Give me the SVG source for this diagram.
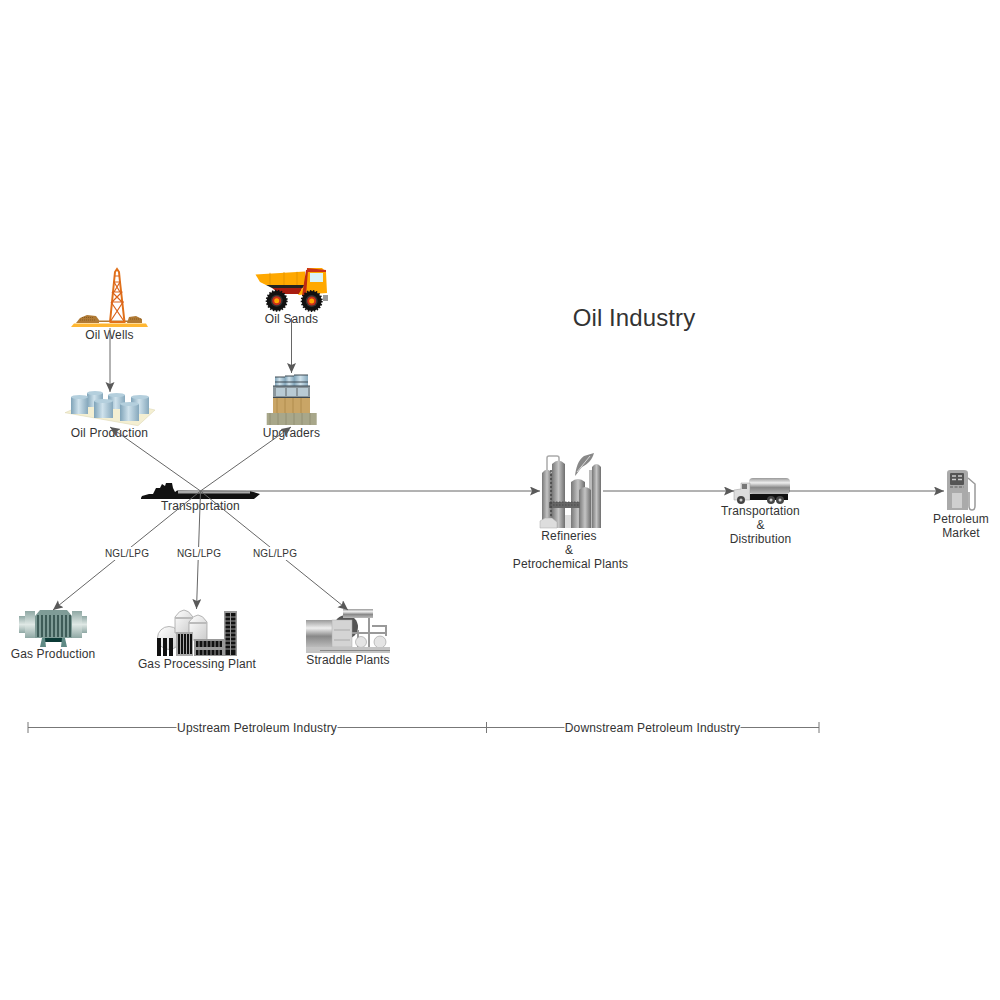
<svg xmlns="http://www.w3.org/2000/svg" width="1000" height="1000" viewBox="0 0 1000 1000">
<style>
text{font-family:"Liberation Sans",Arial,sans-serif;font-size:12px;fill:#333;text-anchor:middle;letter-spacing:.14px}
.title{font-size:24px;letter-spacing:.1px}
.sm{font-size:10px;letter-spacing:.1px}
.c{fill:none;stroke:#666;stroke-width:1}
.bg{fill:#fff}
.tick{fill:none;stroke:#777;stroke-width:1}
.tank{fill:url(#blue)}
.tt{fill:#b4cfdd}
.col{fill:url(#hgrey)}
.blk{fill:#111}
</style>
<defs>
<marker id="arr" markerUnits="userSpaceOnUse" markerWidth="11" markerHeight="10" refX="10" refY="4.5" orient="auto">
<path d="M0,0 L10,4.500 L0,9 L2,4.500 z" fill="#595959"/>
</marker>
<linearGradient id="blue" x1="0" x2="1" y1="0" y2="0"><stop offset="0" stop-color="#7fa3b8"/><stop offset=".45" stop-color="#cfe2ec"/><stop offset="1" stop-color="#86a8bc"/></linearGradient>
<linearGradient id="hgrey" x1="0" x2="1" y1="0" y2="0"><stop offset="0" stop-color="#777"/><stop offset=".5" stop-color="#c4c4c4"/><stop offset="1" stop-color="#6e6e6e"/></linearGradient>
<linearGradient id="vgrey" x1="0" x2="0" y1="0" y2="1"><stop offset="0" stop-color="#999"/><stop offset=".3" stop-color="#eee"/><stop offset=".6" stop-color="#888"/><stop offset="1" stop-color="#bbb"/></linearGradient>
<linearGradient id="teal" x1="0" x2="0" y1="0" y2="1"><stop offset="0" stop-color="#8fa8a4"/><stop offset=".5" stop-color="#dfe8e5"/><stop offset="1" stop-color="#8fa8a4"/></linearGradient>
<linearGradient id="dome" x1="0" x2="1" y1="0" y2="1"><stop offset="0" stop-color="#fff"/><stop offset="1" stop-color="#ccc"/></linearGradient>
</defs>

<g id="title"><text class="title" x="634" y="326">Oil Industry</text></g>

<g id="oil-wells">
<path d="M71,327 L74,323.500 L146,323.500 L148,327 z" fill="#ffb733"/>
<path d="M76,323 L80,318 L87,315 L96,316 L99,320 L99,323 z" fill="#b07a35"/>
<path d="M127,323 L129,317 L136,316 L142,319 L142,323 z" fill="#b07a35"/>
<path d="M80,320 H96 M82,317.500 H94 M130,319 H141" stroke="#7d5520" stroke-width=".8" stroke-dasharray="1 1" fill="none"/>
<rect x="98" y="320.500" width="30" height="1.500" fill="#b07a35"/>
<path d="M110,322 L114,282 L115,272 L117,269 L119,272 L120,282 L124.500,322" fill="none" stroke="#e0701a" stroke-width="2"/>
<path d="M111,302 H124 M112,292 H122.500 M113.500,282 H120.500 M114.500,276 H119.500 M110,322 L123,302 M124.500,322 L111,302 M112,302 L122,292 M122,302 L112,292 M114,292 L120,282 M120,292 L114,282" fill="none" stroke="#d9621a" stroke-width="1.200"/>
<rect x="109.500" y="321" width="16" height="2" fill="#e0701a"/>
<text x="109.500" y="339">Oil Wells</text>
</g>

<g id="oil-sands">
<path d="M255.500,274.500 L305,271.500 L305,285 L266,285 L260,282 z" fill="#ffa800"/>
<path d="M270,272.800 V285 M284,272 V285 M297,271.800 V285" stroke="#d98c00" stroke-width=".7"/>
<path d="M266,285 L305,285 L305,288 L272,288 z" fill="#222"/>
<path d="M272,288 H302 L300,294 H280 z" fill="#a81c10"/>
<path d="M305,284 L307,268 L322,268 L326,272 L327,293 L298,295 z" fill="#ffa800"/>
<path d="M302,296 L306,270 L308,270 L306,296 z" fill="#c02a10"/>
<rect x="310" y="273" width="13" height="9" fill="#d9f2f7"/>
<path d="M307,268 L326,270 L326,272 L307,272 z" fill="#c8301a"/>
<rect x="323" y="295" width="5" height="6" fill="#999"/>
<circle cx="276.700" cy="300.700" r="10" fill="#111" stroke="#111" stroke-width="2" stroke-dasharray="1.500 1.500"/><circle cx="276.700" cy="300.700" r="6" fill="#333"/><circle cx="276.700" cy="300.700" r="4.500" fill="#c8301a"/><circle cx="276.700" cy="300.700" r="2.500" fill="#ffa800"/>
<circle cx="311.700" cy="301" r="10" fill="#111" stroke="#111" stroke-width="2" stroke-dasharray="1.500 1.500"/><circle cx="311.700" cy="301" r="6" fill="#333"/><circle cx="311.700" cy="301" r="4.500" fill="#c8301a"/><circle cx="311.700" cy="301" r="2.500" fill="#ffa800"/>
<text x="291.500" y="323">Oil Sands</text>
</g>

<g id="oil-production">
<path d="M65,412.700 L138,425.700 L155,410 L125,403 L85,404 z" fill="#f4efd2" stroke="#d8d2ae" stroke-width=".5"/>
<rect class="tank" x="87" y="393" width="16" height="14"/><ellipse class="tt" cx="95" cy="393" rx="8" ry="2"/>
<rect class="tank" x="108" y="395" width="17" height="14"/><ellipse class="tt" cx="116.500" cy="395" rx="8.500" ry="2"/>
<rect class="tank" x="71" y="397" width="17" height="17"/><ellipse class="tt" cx="79.500" cy="397" rx="8.500" ry="2"/>
<rect class="tank" x="131" y="397" width="18" height="17"/><ellipse class="tt" cx="140" cy="397" rx="9" ry="2"/>
<rect class="tank" x="94" y="401" width="19" height="17"/><ellipse class="tt" cx="103.500" cy="401" rx="9.500" ry="2"/>
<rect class="tank" x="120" y="404" width="19" height="17"/><ellipse class="tt" cx="129.500" cy="404" rx="9.500" ry="2"/>
<text x="109.500" y="437">Oil Production</text>
</g>

<g id="upgraders">
<rect x="266.700" y="413" width="50" height="12" fill="#a8a78a"/>
<path d="M270,413 V425 M278,413 V425 M286,413 V425 M294,413 V425 M302,413 V425 M310,413 V425" stroke="#8d8c70" stroke-width=".8"/>
<rect x="273" y="398" width="37" height="15" fill="#c9a566"/>
<rect x="273" y="386" width="37" height="12" fill="#8a969c"/>
<path d="M277,398 V413 M285,398 V413 M293,398 V413 M301,398 V413" stroke="#b08c4c" stroke-width="1"/>
<path d="M276,388 H285 V396 H276 z M287,388 H296 V396 H287 z M298,388 H308 V396 H298 z" fill="#b9cbd4"/>
<rect class="tank" x="275" y="377" width="10" height="9"/>
<rect class="tank" x="285" y="376" width="9" height="10"/>
<rect class="tank" x="294" y="375" width="14" height="11"/>
<path d="M275,377 H285 M285,376 H294 M294,375 H308 M275,382 H308 M273,386 H310 M273,397.500 H310" stroke="#3f4a52" stroke-width="1" fill="none"/>
<text x="291.500" y="437">Upgraders</text>
</g>

<g id="transportation">
<path d="M141,498 L142,496 L149,494 L153,494 L156,488 L160,488 L162,484 L165,486 L166,483 L172,483 L173,488 L175,492 L177,490.500 L250,491 L260,494 L254,499 L141,499 z" class="blk"/>
<rect x="178" y="491" width="72" height="2.500" fill="#aaa"/>
<text x="200.500" y="510">Transportation</text>
</g>

<g id="refineries">
<path d="M547,470 V458 Q547,456 549,456 H557 Q559,456 559,458 V461" fill="none" stroke="#aaa" stroke-width="1.500"/>
<path d="M542,528 V473 Q547,466 552,473 V528 z" class="col"/>
<path d="M552,528 V464 Q558.500,457 565,464 V528 z" class="col"/>
<rect x="565" y="515" width="14" height="13" fill="#ddd"/>
<path d="M571,528 V482 Q578,476 585,482 V528 z" class="col"/>
<path d="M589,528 V470 H593 V528 z" fill="#bbb"/>
<path d="M579,528 V490 Q585,484 591,490 V528 z" class="col"/>
<path d="M592,528 V467 Q596.500,461 601,467 V528 z" class="col"/>
<rect x="549" y="502" width="31" height="6" fill="#666"/>
<path d="M550,502 H580 M550,505 H580" stroke="#444" stroke-width=".8" stroke-dasharray="1.500 1.500"/>
<path d="M551,470 V518" stroke="#444" stroke-width="1.500" stroke-dasharray="2 2" fill="none"/>
<path d="M540,528 V521 L545,518 L552,518 L557,522 V528 z" fill="#ddd" stroke="#aaa" stroke-width=".5"/>
<path d="M575,476 C576,468 578,460 584,456 L594,453 C592,460 588,464 582,467 C579,470 577,474 575,476 z" fill="#888"/>
<path d="M577,472 L590,456" stroke="#eee" stroke-width=".8"/>
<text x="569" y="540">Refineries</text>
<text x="569" y="554">&amp;</text>
<text x="570.500" y="568">Petrochemical Plants</text>
</g>

<g id="truck">
<rect x="749" y="478" width="41" height="16" rx="4" fill="url(#vgrey)"/>
<path d="M734,500 V490 L741,489 L741,483 L750,483 V500 z" fill="#ddd" stroke="#999" stroke-width=".5"/>
<rect x="742" y="484" width="5" height="5" fill="#777"/>
<rect x="750" y="494" width="38" height="6" class="blk"/>
<circle cx="741" cy="500" r="4" fill="#444"/><circle cx="741" cy="500" r="1.500" fill="#ccc"/>
<circle cx="771" cy="500" r="4" fill="#444"/><circle cx="771" cy="500" r="1.500" fill="#ccc"/>
<circle cx="780" cy="500" r="4" fill="#444"/><circle cx="780" cy="500" r="1.500" fill="#ccc"/>
<text x="760.500" y="515">Transportation</text>
<text x="760.500" y="529">&amp;</text>
<text x="760.500" y="543">Distribution</text>
</g>

<g id="petroleum-market">
<path d="M947,510 V473 Q947,470 950,470 H964 Q968,470 968,473 V510 z" fill="#aaa"/>
<rect x="950" y="473" width="14" height="12" rx="1" fill="#555"/>
<path d="M952,476 H956 M958,476 H962 M952,479.500 H956 M958,479.500 H962" stroke="#ccc" stroke-width="1.500"/>
<path d="M950,487 H964" stroke="#777" stroke-width="1.500" stroke-dasharray="3 1.500"/>
<rect x="952" y="493" width="10" height="15" fill="#cfcfcf"/>
<path d="M968,478 L975,484 V506 Q975,510 972,510 Q969,510 969,506 V492" fill="none" stroke="#999" stroke-width="1.500"/>
<text x="961" y="523">Petroleum</text>
<text x="961" y="537">Market</text>
</g>

<g id="gas-production">
<rect x="19" y="616" width="6" height="17" fill="url(#teal)"/>
<rect x="25" y="611" width="10" height="27" fill="url(#teal)"/>
<rect x="72" y="611" width="10" height="27" fill="url(#teal)"/>
<rect x="82" y="616" width="5" height="17" fill="url(#teal)"/>
<path d="M35,616 L40,610 H67 L72,616 V638 H35 z" fill="#7f9c97"/>
<path d="M38,615 V637 M42,615 V637 M46,615 V637 M50,615 V637 M54,615 V637 M58,615 V637 M62,615 V637 M66,615 V637 M70,615 V637" stroke="#2f4d49" stroke-width="1.600"/>
<rect x="45" y="638" width="17" height="4" fill="#0b3a36"/>
<path d="M40,647 L42,638 H45 L46,647 z M61,647 L62,638 H65 L67,647 z" fill="#5f8a85"/>
<text x="53" y="658">Gas Production</text>
</g>

<g id="gas-processing">
<circle cx="169" cy="638" r="11.500" fill="url(#dome)" stroke="#999" stroke-width=".7"/>
<path d="M175,633 V617 Q184,603 193,617 V633 z" fill="url(#dome)" stroke="#999" stroke-width=".7"/>
<path d="M189,640 V622 Q198,608 207,622 V640 z" fill="url(#dome)" stroke="#999" stroke-width=".7"/>
<rect x="175" y="617" width="18" height="2" fill="#bbb"/><rect x="189" y="622" width="18" height="2" fill="#bbb"/>
<rect x="157" y="638" width="4" height="18" class="blk"/><rect x="163" y="638" width="4" height="18" class="blk"/><rect x="169" y="638" width="4" height="18" class="blk"/>
<rect x="176" y="632" width="17" height="24" fill="#aaa"/>
<path d="M179,634 V654 M182,634 V654 M185,634 V654 M188,634 V654 M191,634 V654" stroke="#111" stroke-width="2"/>
<rect x="194" y="639" width="30" height="17" fill="#999"/>
<path d="M196,641 H222 V647 H196 z M196,650 H222 V655 H196 z" class="blk"/>
<path d="M199,641 V655 M203,641 V655 M207,641 V655 M211,641 V655 M215,641 V655 M219,641 V655" stroke="#999" stroke-width="1"/>
<rect x="224" y="611" width="13" height="45" fill="#999"/>
<path d="M225.500,613 H235.500 V655 H225.500 z" class="blk"/>
<path d="M225,617 H236 M225,621 H236 M225,625 H236 M225,629 H236 M225,633 H236 M225,637 H236 M225,641 H236 M225,645 H236 M225,649 H236 M230.500,613 V655" stroke="#999" stroke-width="1"/>
<text x="197" y="668">Gas Processing Plant</text>
</g>

<g id="straddle-plants">
<circle cx="346" cy="627" r="12" fill="#555"/>
<rect x="306" y="620" width="27" height="27" fill="url(#vgrey)"/>
<rect x="332" y="620" width="20" height="27" fill="#d4d4d4" stroke="#aaa" stroke-width=".5"/>
<path d="M334,630 H350 M334,640 H350" stroke="#aaa" stroke-width="1"/>
<rect x="343" y="609" width="30" height="9" fill="url(#vgrey)"/>
<path d="M358,647 V630 M369,650 V618 M352,633 H385 M372,626 H386 V636" stroke="#999" stroke-width="2" fill="none"/>
<circle cx="361" cy="642" r="5.500" fill="#e4e4e4" stroke="#888" stroke-width=".5"/>
<circle cx="380" cy="642" r="6" fill="#e4e4e4" stroke="#888" stroke-width=".5"/>
<rect x="306" y="647" width="84" height="6" fill="#c4c4c4"/>
<rect x="320" y="650" width="70" height="1" fill="#888"/>
<text x="348" y="664">Straddle Plants</text>
</g>

<g id="connectors">
<path class="c" d="M110,328 V392" marker-end="url(#arr)"/>
<path class="c" d="M291.500,318 V373" marker-end="url(#arr)"/>
<path class="c" d="M200.500,491 L110,427" marker-end="url(#arr)"/>
<path class="c" d="M200.500,491 L291,427" marker-end="url(#arr)"/>
<path class="c" d="M200.500,491 H540" marker-end="url(#arr)"/>
<path class="c" d="M603,491 H734" marker-end="url(#arr)"/>
<path class="c" d="M789,491 H944" marker-end="url(#arr)"/>
<path class="c" d="M200.500,491 L53,610" marker-end="url(#arr)"/>
<path class="c" d="M200.500,491 L196.500,609" marker-end="url(#arr)"/>
<path class="c" d="M200.500,491 L348,610" marker-end="url(#arr)"/>
<rect class="bg" x="105" y="547" width="44" height="13"/><text class="sm" x="127" y="557">NGL/LPG</text>
<rect class="bg" x="177" y="547" width="44" height="13"/><text class="sm" x="199" y="557">NGL/LPG</text>
<rect class="bg" x="253" y="547" width="44" height="13"/><text class="sm" x="275" y="557">NGL/LPG</text>
</g>

<g id="industry-scale">
<path class="tick" d="M28,727.500 H486.500 M486.500,727.500 H819 M28,722 V733 M486.500,722 V733 M819,722 V733"/>
<rect class="bg" x="176.500" y="720" width="161" height="15"/><text x="257" y="732">Upstream Petroleum Industry</text>
<rect class="bg" x="564.500" y="720" width="176" height="15"/><text x="652.500" y="732">Downstream Petroleum Industry</text>
</g>
</svg>
